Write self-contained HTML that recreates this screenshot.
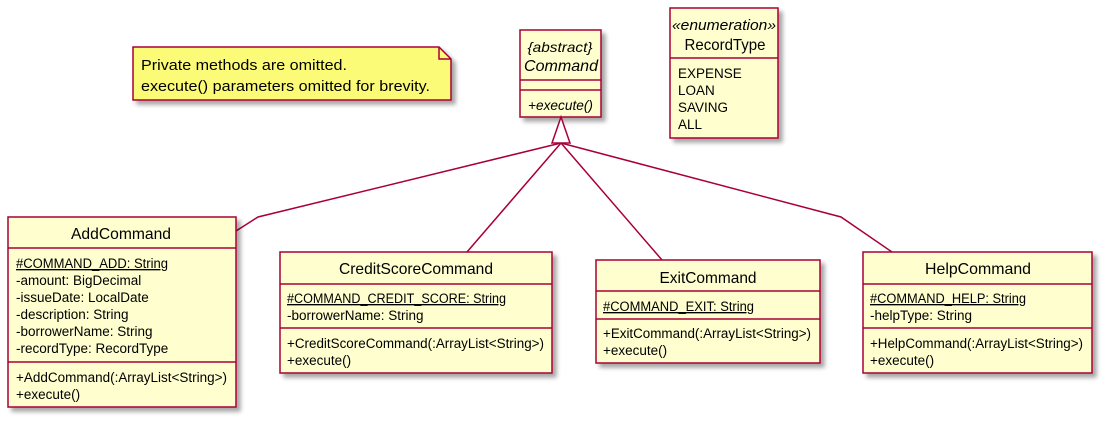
<!DOCTYPE html>
<html><head><meta charset="utf-8"><style>html,body{margin:0;padding:0;background:#fff}svg{display:block}</style></head>
<body>
<svg width="1105" height="423" xmlns="http://www.w3.org/2000/svg" font-family="Liberation Sans, sans-serif" font-size="13.5" fill="#000">
<defs><filter id="sh" x="-10%" y="-10%" width="130%" height="130%"><feGaussianBlur in="SourceAlpha" stdDeviation="2"/><feOffset dx="4" dy="4"/><feComponentTransfer><feFuncA type="linear" slope="0.35"/></feComponentTransfer><feMerge><feMergeNode/><feMergeNode in="SourceGraphic"/></feMerge></filter></defs>
<g stroke="#A80036" stroke-width="1.5" fill="none">
<polyline points="561,143 258,217 236,231"/>
<line x1="561" y1="143" x2="467" y2="252"/>
<line x1="561" y1="143" x2="662" y2="260"/>
<polyline points="561,143 841,217 892,252"/>
</g>
<path d="M133,47 L439,47 L451,59 L451,100 L133,100 Z" fill="#FBFB77" stroke="#A80036" stroke-width="1.5" filter="url(#sh)"/>
<path d="M439,47 L439,59 L451,59" fill="none" stroke="#A80036" stroke-width="1.5"/>
<text x="141" y="70" font-size="15" textLength="206" lengthAdjust="spacingAndGlyphs">Private methods are omitted.</text>
<text x="141" y="91" font-size="15" textLength="289" lengthAdjust="spacingAndGlyphs">execute() parameters omitted for brevity.</text>
<g fill="#FEFECE" stroke="#A80036" stroke-width="1.5" filter="url(#sh)">
<rect x="520" y="30" width="81" height="87"/>
<rect x="670" y="8" width="108" height="130"/>
<rect x="8" y="217" width="228" height="190"/>
<rect x="280" y="252" width="272" height="121"/>
<rect x="596" y="260" width="224" height="103"/>
<rect x="863" y="252" width="229" height="121"/>
</g>
<g stroke="#A80036" stroke-width="1.5">
<line x1="520" y1="80" x2="601" y2="80"/><line x1="520" y1="90" x2="601" y2="90"/>
<line x1="670" y1="58" x2="778" y2="58"/>
<line x1="8" y1="248" x2="236" y2="248"/><line x1="8" y1="362" x2="236" y2="362"/>
<line x1="280" y1="284" x2="552" y2="284"/><line x1="280" y1="328" x2="552" y2="328"/>
<line x1="596" y1="291" x2="820" y2="291"/><line x1="596" y1="319" x2="820" y2="319"/>
<line x1="863" y1="284" x2="1092" y2="284"/><line x1="863" y1="328" x2="1092" y2="328"/>
</g>
<polygon points="561,117 552,143 570,143" fill="#fff" stroke="#A80036" stroke-width="1.5"/>
<g font-style="italic">
<text x="560" y="52" font-size="14" text-anchor="middle" textLength="65" lengthAdjust="spacingAndGlyphs">{abstract}</text>
<text x="561" y="71" font-size="16" text-anchor="middle" textLength="74" lengthAdjust="spacingAndGlyphs">Command</text>
<text x="528" y="110" textLength="65" lengthAdjust="spacingAndGlyphs">+execute()</text>
<text x="724" y="30" font-size="15" text-anchor="middle" textLength="104" lengthAdjust="spacingAndGlyphs">«enumeration»</text>
</g>
<text x="725" y="50" font-size="16" text-anchor="middle" textLength="81" lengthAdjust="spacingAndGlyphs">RecordType</text>
<text x="678" y="78">EXPENSE</text><text x="678" y="95">LOAN</text><text x="678" y="112">SAVING</text><text x="678" y="129">ALL</text>
<text x="121" y="239" font-size="16" text-anchor="middle" textLength="100" lengthAdjust="spacingAndGlyphs">AddCommand</text>
<text x="16" y="268" text-decoration="underline" textLength="152" lengthAdjust="spacingAndGlyphs">#COMMAND_ADD: String</text>
<text x="16" y="285">-amount: BigDecimal</text>
<text x="16" y="302">-issueDate: LocalDate</text>
<text x="16" y="319">-description: String</text>
<text x="16" y="336">-borrowerName: String</text>
<text x="16" y="353">-recordType: RecordType</text>
<text x="16" y="382" textLength="211" lengthAdjust="spacingAndGlyphs">+AddCommand(:ArrayList&lt;String&gt;)</text>
<text x="16" y="399">+execute()</text>
<text x="416" y="274" font-size="16" text-anchor="middle" textLength="154" lengthAdjust="spacingAndGlyphs">CreditScoreCommand</text>
<text x="287" y="303" text-decoration="underline" textLength="219" lengthAdjust="spacingAndGlyphs">#COMMAND_CREDIT_SCORE: String</text>
<text x="287" y="320">-borrowerName: String</text>
<text x="287" y="348" textLength="257" lengthAdjust="spacingAndGlyphs">+CreditScoreCommand(:ArrayList&lt;String&gt;)</text>
<text x="287" y="365">+execute()</text>
<text x="708" y="283" font-size="16" text-anchor="middle" textLength="97" lengthAdjust="spacingAndGlyphs">ExitCommand</text>
<text x="603" y="311" text-decoration="underline" textLength="151" lengthAdjust="spacingAndGlyphs">#COMMAND_EXIT: String</text>
<text x="603" y="338" textLength="208" lengthAdjust="spacingAndGlyphs">+ExitCommand(:ArrayList&lt;String&gt;)</text>
<text x="603" y="355">+execute()</text>
<text x="978" y="274" font-size="16" text-anchor="middle" textLength="106" lengthAdjust="spacingAndGlyphs">HelpCommand</text>
<text x="870" y="303" text-decoration="underline" textLength="156" lengthAdjust="spacingAndGlyphs">#COMMAND_HELP: String</text>
<text x="870" y="320">-helpType: String</text>
<text x="870" y="348" textLength="213" lengthAdjust="spacingAndGlyphs">+HelpCommand(:ArrayList&lt;String&gt;)</text>
<text x="870" y="365">+execute()</text>
</svg>
</body></html>
